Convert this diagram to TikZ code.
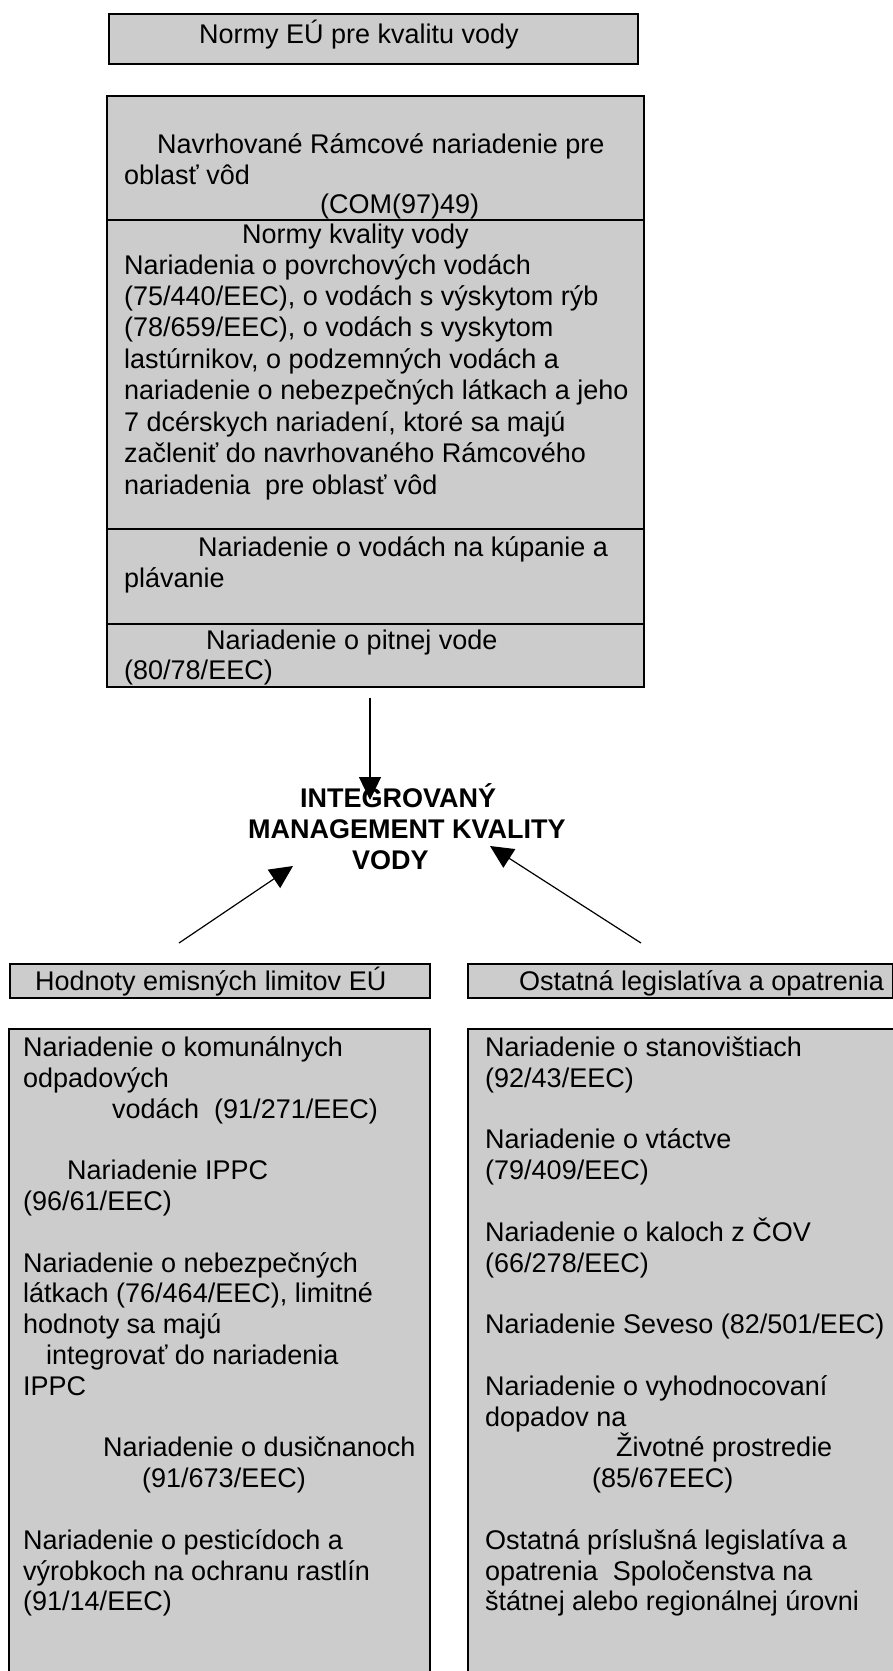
\documentclass[tikz,border=0pt]{standalone}
\usepackage{fontspec}
\setmainfont{Liberation Sans}
\usetikzlibrary{arrows.meta}
\definecolor{boxgray}{RGB}{204,204,204}
\newcommand{\bodyfont}{\fontsize{27}{31}\selectfont}

\begin{document}
\begin{tikzpicture}[x=1pt,y=-1pt,
  panel/.style={draw=black, fill=boxgray, line width=2pt, inner sep=0pt, outer sep=0pt, anchor=north west},
  rule/.style={draw=black, line width=2pt},
  txt/.style={anchor=base west, inner sep=0pt, font=\bodyfont},
  ttl/.style={anchor=base west, inner sep=0pt, font=\bodyfont\bfseries},
  link/.style={line width=1.2pt, -{Triangle[length=23pt,width=22pt]}}]
\useasboundingbox (0,0) rectangle (893,1671);
\clip (0,0) rectangle (893,1671);

% ---- EU water quality standards ----
\node[panel, minimum width=529pt, minimum height=50pt] (norms) at (109,14) {};
\node[txt] (normsT) at (199,43) {Normy EÚ pre kvalitu vody};

\node[panel, minimum width=537pt, minimum height=591pt] (frame) at (107,96) {};
\draw[rule] (107,220) -- (644,220);
\draw[rule] (107,529) -- (644,529);
\draw[rule] (107,624) -- (644,624);

\node[txt] (f1) at (157,153) {Navrhované Rámcové nariadenie pre};
\node[txt] (f2) at (124,184) {oblasť vôd};
\node[txt] (f3) at (320,213) {(COM(97)49)};

\node[txt] (q1) at (242,243) {Normy kvality vody};
\node[txt] (q2) at (124,274) {Nariadenia o povrchových vodách};
\node[txt] (q3) at (124,305) {(75/440/EEC), o vodách s výskytom rýb};
\node[txt] (q4) at (124,336) {(78/659/EEC), o vodách s vyskytom};
\node[txt] (q5) at (124,368) {lastúrnikov, o podzemných vodách a};
\node[txt] (q6) at (124,399) {nariadenie o nebezpečných látkach a jeho};
\node[txt] (q7) at (124,431) {7 dcérskych nariadení, ktoré sa majú};
\node[txt] (q8) at (124,462) {začleniť do navrhovaného Rámcového};
\node[txt] (q9) at (124,494) {nariadenia\ \ pre oblasť vôd};

\node[txt] (b1) at (198,556) {Nariadenie o vodách na kúpanie a};
\node[txt] (b2) at (124,587) {plávanie};

\node[txt] (d1) at (206,649) {Nariadenie o pitnej vode};
\node[txt] (d2) at (124,679) {(80/78/EEC)};

% ---- central goal ----
\node[ttl] (g1) at (300,807) {INTEGROVANÝ};
\node[ttl] (g2) at (248,838) {MANAGEMENT KVALITY};
\node[ttl] (g3) at (352,869) {VODY};

\coordinate (downFrom) at (370,698);
\coordinate (downTo) at (370,800);
\coordinate (leftFrom) at (179,943);
\coordinate (leftTo) at (293,866);
\coordinate (rightFrom) at (641,943);
\coordinate (rightTo) at (490,846);
\draw[link] (downFrom) -- (downTo);
\draw[link] (leftFrom) -- (leftTo);
\draw[link] (rightFrom) -- (rightTo);

% ---- emission limit values ----
\node[panel, minimum width=420pt, minimum height=34pt] (emis) at (10,964) {};
\node[txt] (emisT) at (35,990) {Hodnoty emisných limitov EÚ};
\node[panel, minimum width=421pt, minimum height=660pt] (emisL) at (9,1029) {};

\node[txt] (e1) at (23,1056) {Nariadenie o komunálnych};
\node[txt] (e2) at (23,1087) {odpadových};
\node[txt] (e3) at (112,1118) {vodách\ \ (91/271/EEC)};
\node[txt] (e4) at (67,1179) {Nariadenie IPPC};
\node[txt] (e5) at (23,1210) {(96/61/EEC)};
\node[txt] (e6) at (23,1272) {Nariadenie o nebezpečných};
\node[txt] (e7) at (23,1302) {látkach (76/464/EEC), limitné};
\node[txt] (e8) at (23,1333) {hodnoty sa majú};
\node[txt] (e9) at (46,1364) {integrovať do nariadenia};
\node[txt] (e10) at (23,1395) {IPPC};
\node[txt] (e11) at (103,1456) {Nariadenie o dusičnanoch};
\node[txt] (e12) at (142,1487) {(91/673/EEC)};
\node[txt] (e13) at (23,1549) {Nariadenie o pesticídoch a};
\node[txt] (e14) at (23,1580) {výrobkoch na ochranu rastlín};
\node[txt] (e15) at (23,1610) {(91/14/EEC)};

% ---- other legislation and measures ----
\node[panel, minimum width=425pt, minimum height=34pt] (other) at (468,964) {};
\node[txt] (otherT) at (519,990) {Ostatná legislatíva a opatrenia};
\node[panel, minimum width=460pt, minimum height=660pt] (otherL) at (468,1029) {};

\node[txt] (o1) at (485,1056) {Nariadenie o stanovištiach};
\node[txt] (o2) at (485,1087) {(92/43/EEC)};
\node[txt] (o3) at (485,1148) {Nariadenie o vtáctve};
\node[txt] (o4) at (485,1179) {(79/409/EEC)};
\node[txt] (o5) at (485,1241) {Nariadenie o kaloch z ČOV};
\node[txt] (o6) at (485,1272) {(66/278/EEC)};
\node[txt] (o7) at (485,1333) {Nariadenie Seveso (82/501/EEC)};
\node[txt] (o8) at (485,1395) {Nariadenie o vyhodnocovaní};
\node[txt] (o9) at (485,1426) {dopadov na};
\node[txt] (o10) at (616,1456) {Životné prostredie};
\node[txt] (o11) at (592,1487) {(85/67EEC)};
\node[txt] (o12) at (485,1549) {Ostatná príslušná legislatíva a};
\node[txt] (o13) at (485,1580) {opatrenia\ \ Spoločenstva na};
\node[txt] (o14) at (485,1610) {štátnej alebo regionálnej úrovni};
\end{tikzpicture}
\end{document}
